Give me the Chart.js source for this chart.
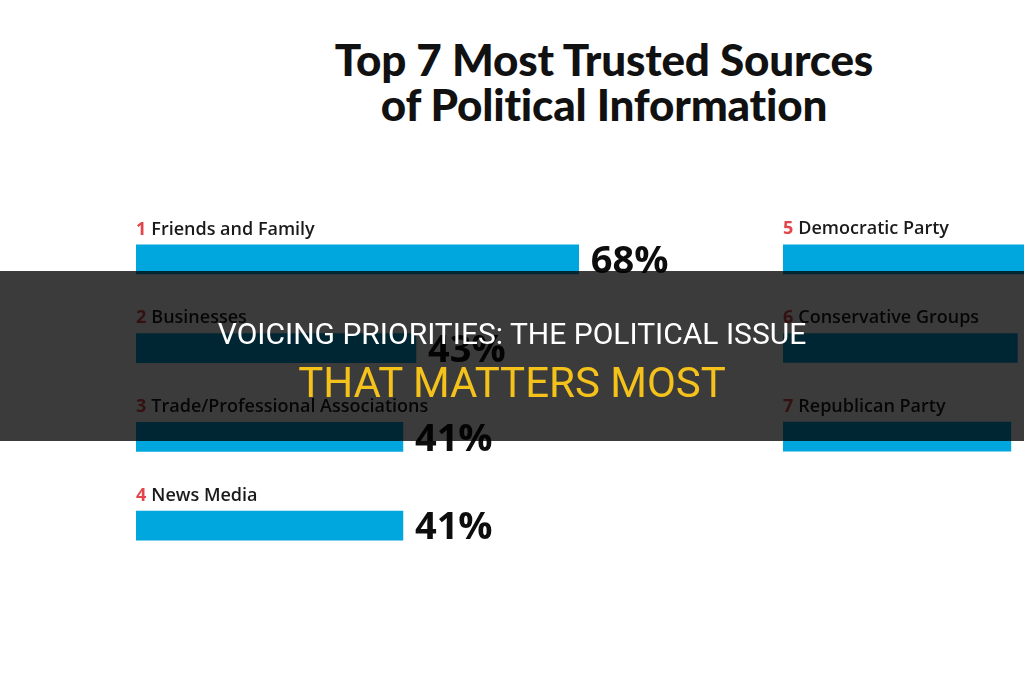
<!DOCTYPE html>
<html>
<head>
<meta charset="utf-8">
<script src="https://cdn.jsdelivr.net/npm/chart.js@4/dist/chart.umd.min.js"></script>
<style>
  html, body { margin: 0; padding: 0; background: #fff; overflow: hidden; }
  #wrap { position: relative; width: 1024px; height: 680px; overflow: hidden; }
  #wrap canvas { position: absolute; left: 0; top: 0; }
  .title { position: absolute; left: 0; width: 1208px; text-align: center; margin: 0;
           font-family: "Lato", sans-serif; font-weight: 900; font-size: 44px; color: #111; letter-spacing: -0.2px; }
  #banner { position: absolute; left: 0; top: 271px; width: 1024px; height: 170px; background: rgba(0,0,0,0.77); }
  #banner div { position: absolute; left: 0; width: 1024px; text-align: center; font-family: Roboto, "Liberation Sans", sans-serif; }
  #b1 { top: 45px; font-size: 30px; color: #fff; }
  #b2 { top: 87px; font-size: 42px; color: #f5c21b; }
</style>
</head>
<body>
<div id="wrap">
  <h1 class="title" style="top:33px">Top 7 Most Trusted Sources</h1>
  <h1 class="title" style="top:78px">of Political Information</h1>
  <canvas id="leftChart" width="1024" height="680"></canvas>
  <canvas id="rightChart" width="1500" height="680"></canvas>
  <div id="banner">
    <div id="b1">VOICING PRIORITIES: THE POLITICAL ISSUE</div>
    <div id="b2">THAT MATTERS MOST</div>
  </div>
</div>
<script>
// ----------- Data -----------
const leftRanks = ['1', '2', '3', '4'];
const leftNames = ['Friends and Family', 'Businesses', 'Trade/Professional Associations', 'News Media'];
const leftValues = [68, 43, 41, 41];

const rightRanks = ['5', '6', '7'];
const rightNames = ['Democratic Party', 'Conservative Groups', 'Republican Party'];
const rightValues = [38, 36, 35];

const barBlue = '#00a6de';
const rankRed = '#e2454a';

// labels above each bar + value to the right
const labelPlugin = {
    id: 'barLabels',
    afterDatasetsDraw(chart) {
        const ctx = chart.ctx;
        const ranks = chart.options.plugins.barLabels.ranks;
        const names = chart.data.labels;
        const vals = chart.data.datasets[0].data;
        chart.getDatasetMeta(0).data.forEach((bar, i) => {
            ctx.save();
            ctx.textBaseline = 'middle';
            ctx.font = 'bold 18px "Open Sans"';
            ctx.fillStyle = rankRed;
            ctx.fillText(ranks[i], bar.base, bar.y - 30);
            const w = ctx.measureText(ranks[i]).width + 5;
            ctx.font = '600 18px "Open Sans"';
            ctx.fillStyle = '#1a1a1a';
            ctx.fillText(names[i], bar.base + w, bar.y - 30);
            ctx.font = 'bold 38px "Open Sans"';
            ctx.fillStyle = '#0d0d0d';
            ctx.fillText(vals[i] + '%', bar.x + 12, bar.y + 3);
            ctx.restore();
        });
    }
};

function makeChart(id, names, values, ranks, padLeft, padRight, padBottom) {
    return new Chart(document.getElementById(id), {
        type: 'bar',
        data: {
            labels: names,
            datasets: [{ data: values, backgroundColor: barBlue, borderWidth: 0, barThickness: 29 }]
        },
        options: {
            indexAxis: 'y',
            responsive: false,
            animation: false,
            layout: { padding: { left: padLeft, right: padRight, top: 215, bottom: padBottom } },
            plugins: { legend: { display: false }, tooltip: { enabled: false }, barLabels: { ranks } },
            scales: {
                x: { display: false, min: 0, max: 100 },
                y: { display: false }
            }
        },
        plugins: [labelPlugin]
    });
}

// 1% = 6.51px, rows 88.8px apart
makeChart('leftChart', leftNames, leftValues, leftRanks, 136, 1024 - 136 - 651, 680 - 570);
makeChart('rightChart', rightNames, rightValues, rightRanks, 783, 1500 - 783 - 651, 680 - 481);
</script>
</body>
</html>
